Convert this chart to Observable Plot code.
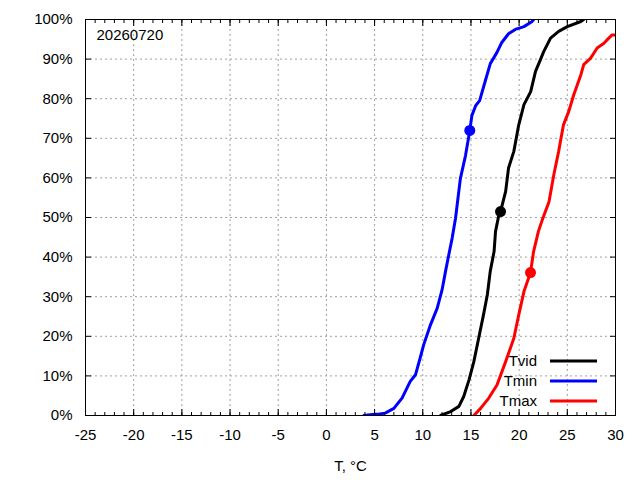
<!DOCTYPE html>
<html><head><meta charset="utf-8">
<script src="https://cdn.jsdelivr.net/npm/d3@7"></script>
<script src="https://cdn.jsdelivr.net/npm/@observablehq/plot@0.6"></script>
<style>body{margin:0;background:#fff} svg{display:block}</style>
</head><body><div id="chart"></div>
<script>
// Tick values
const xTicks = d3.range(-25, 31, 5);
const xMinor = d3.range(-25, 31, 1);
const yTicks = d3.range(0, 101, 10);

// Series (temperature °C, cumulative %)
const tvidT = [11.85,12.9,13.75,14.25,14.8,15.3,15.8,16.3,16.7,17.0,17.4,17.55,17.9,18.07,18.6,18.9,19.45,19.96,20.5,21.2,21.7,22.2,22.55,23.26,24.1,25.0,26.4,26.7];
const tvidP = [0,1,2.3,4.8,9,13.6,19.5,25.4,30.5,36.4,41.4,46.5,50.7,51.5,56.6,62.5,66.7,73.4,78.5,81.8,86.9,89.8,91.9,95.3,97,98.2,99.5,100];

const tminT = [3.9,4.5,5.5,6.1,7.0,7.85,8.7,9.25,9.77,10.1,10.8,11.5,12.0,12.36,12.7,13.05,13.4,13.9,14.44,14.88,15.1,15.5,15.9,16.5,17.0,17.7,18.2,18.9,19.6,20.5,21.35,21.5];
const tminP = [0,0.2,0.4,0.6,1.8,4.4,8.6,10.3,14.9,17.9,22.9,27.1,31.7,36.4,40.6,44.8,49.8,59.8,65.7,72,75.8,78.3,79.5,84.6,88.8,91.7,94.2,96.4,97.5,98.2,99.5,100];

const tmaxT = [15.3,16.0,16.85,17.7,18.6,19.45,19.96,20.5,21.18,21.5,22.0,22.4,23.1,23.6,24.1,24.6,25.15,25.67,26.4,26.7,27.4,28.1,28.8,29.3,29.65,30,30.5];
const tmaxP = [0,1.8,4.4,7.7,13.6,19.5,25.4,31.3,36.1,41.4,46.5,49.4,54,60.8,66.7,73.4,76.8,81,86,88.6,90.2,92.8,94,95.3,96.1,96.1,96.1];

// Markers
const markerNames = ["Tvid", "Tmin", "Tmax"];
const markerT = [18.07, 14.88, 21.18];
const markerP = [51.5, 72.0, 36.1];
const colors = ["#000000", "#0000ff", "#ff0000"];

const dateLabel = "20260720";
const xLabel = "T, °C";

const series = [
  {name: "Tvid", T: tvidT, P: tvidP},
  {name: "Tmin", T: tminT, P: tminP},
  {name: "Tmax", T: tmaxT, P: tmaxP}
];
const lineData = series.flatMap(s => s.T.map((t, i) => ({name: s.name, T: t, P: s.P[i]})));
const markers = markerNames.map((n, i) => ({name: n, T: markerT[i], P: markerP[i]}));

const blank = () => "";
const grid = {stroke: "#a0a0a0", strokeOpacity: 1, strokeDasharray: "2,3", strokeWidth: 1};

const chart = Plot.plot({
  width: 640, height: 480,
  marginLeft: 85, marginRight: 25, marginTop: 19, marginBottom: 65,
  style: {fontFamily: "'Liberation Sans', Arial, sans-serif", fontSize: "15px", background: "white", color: "black"},
  x: {domain: [-25, 30], label: null},
  y: {domain: [0, 100], label: null},
  color: {domain: markerNames, range: colors},
  marks: [
    Plot.gridX(xTicks.slice(1, -1), grid),
    Plot.gridY(yTicks.slice(1, -1), grid),
    Plot.line(lineData, {x: "T", y: "P", z: "name", stroke: "name", strokeWidth: 3, clip: true}),
    Plot.dot(markers, {x: "T", y: "P", fill: "name", r: 5.5}),
    Plot.axisX({ticks: xMinor, anchor: "bottom", tickSize: -3, tickFormat: blank, label: null}),
    Plot.axisX({ticks: xMinor, anchor: "top", tickSize: -3, tickFormat: blank, label: null}),
    Plot.axisX({ticks: xTicks, anchor: "bottom", tickSize: -6, tickFormat: blank, label: null}),
    Plot.axisX({ticks: xTicks, anchor: "top", tickSize: -6, tickFormat: blank, label: null}),
    Plot.axisY({ticks: yTicks, anchor: "left", tickSize: -6, tickFormat: blank, label: null}),
    Plot.axisY({ticks: yTicks, anchor: "right", tickSize: -6, tickFormat: blank, label: null}),
    Plot.axisX({ticks: xTicks, anchor: "bottom", tickSize: 0, tickPadding: 14, tickFormat: d => String(d), label: null, fontSize: 15}),
    Plot.axisY({ticks: yTicks, anchor: "left", tickSize: 0, tickPadding: 13, tickFormat: d => d + "%", label: null, fontSize: 15}),
    Plot.frame({stroke: "black", strokeWidth: 1}),
    Plot.text([dateLabel], {text: d => d, frameAnchor: "top-left", dx: 11, dy: 16, textAnchor: "start", lineAnchor: "middle", fontSize: 15}),
    Plot.text([xLabel], {text: d => d, frameAnchor: "bottom", dy: 51, lineAnchor: "middle", fontSize: 15})
  ]
});
document.getElementById("chart").appendChild(chart);

// Legend (inside bottom-right of plot area)
const svg = d3.select(chart);
const lg = svg.append("g").attr("font-family", "'Liberation Sans', Arial, sans-serif").attr("font-size", 15);
markerNames.forEach((n, i) => {
  const y = 361 + i * 20;
  lg.append("text").attr("x", 537).attr("y", y).attr("dy", "0.35em").attr("text-anchor", "end").attr("fill", "black").text(n);
  lg.append("line").attr("x1", 550).attr("x2", 597).attr("y1", y).attr("y2", y).attr("stroke", colors[i]).attr("stroke-width", 3);
});
</script></body></html>
